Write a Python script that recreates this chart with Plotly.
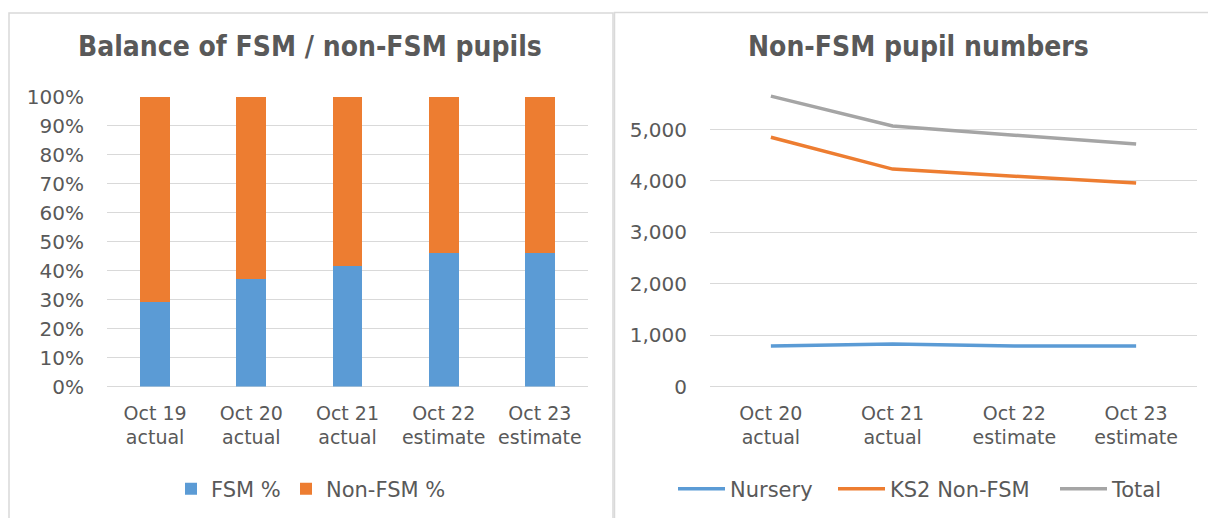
import plotly.graph_objects as go

# ---- data ----
bar_categories = ["Oct 19<br>actual", "Oct 20<br>actual", "Oct 21<br>actual",
                  "Oct 22<br>estimate", "Oct 23<br>estimate"]
fsm_pct = [29.3, 37.2, 41.7, 46.0, 46.0]
non_fsm_pct = [70.7, 62.8, 58.3, 54.0, 54.0]

line_categories = ["Oct 20<br>actual", "Oct 21<br>actual",
                   "Oct 22<br>estimate", "Oct 23<br>estimate"]
nursery = [790, 825, 790, 790]
ks2_non_fsm = [4850, 4230, 4090, 3960]
total = [5650, 5070, 4890, 4720]

pct_ticks = [0, 10, 20, 30, 40, 50, 60, 70, 80, 90, 100]
pct_labels = ["0%", "10%", "20%", "30%", "40%", "50%", "60%", "70%", "80%", "90%", "100%"]
num_ticks = [0, 1000, 2000, 3000, 4000, 5000]
num_labels = ["0", "1,000", "2,000", "3,000", "4,000", "5,000"]

# ---- style ----
OFF = 8  # page body margin
W, H = 1216 - OFF, 518 - OFF
FONT = "DejaVu Sans, sans-serif"
TFONT = "DejaVu Sans Condensed, DejaVu Sans, sans-serif"
TXT = "#595959"
GRID = "#D9D9D9"
BLUE = "#5B9BD5"
ORANGE = "#ED7D31"
GREY = "#A5A5A5"


def px(x):
    return (x - OFF) / W


def py(y):
    return 1 - (y - OFF) / H


fig = go.Figure()

fig.add_trace(go.Bar(x=bar_categories, y=fsm_pct, name="FSM %",
                     marker=dict(color=BLUE, line=dict(width=0)),
                     xaxis="x", yaxis="y", legend="legend"))
fig.add_trace(go.Bar(x=bar_categories, y=non_fsm_pct, name="Non-FSM %",
                     marker=dict(color=ORANGE, line=dict(width=0)),
                     xaxis="x", yaxis="y", legend="legend2"))

for name, vals, col, lg in [("Nursery", nursery, BLUE, "legend3"),
                            ("KS2 Non-FSM", ks2_non_fsm, ORANGE, "legend4"),
                            ("Total", total, GREY, "legend5")]:
    fig.add_trace(go.Scatter(x=line_categories, y=vals, name=name, mode="lines",
                             line=dict(color=col, width=3.5),
                             xaxis="x2", yaxis="y2", legend=lg))

ytickfont = dict(family=FONT, size=20, color=TXT)
xtickfont = dict(family=FONT, size=19, color=TXT)


def leg(x_sym, itemwidth):
    return dict(orientation="h", x=px(x_sym - 10), xanchor="left", y=py(489),
                yanchor="middle", font=dict(family=FONT, size=21, color=TXT),
                itemwidth=itemwidth, bgcolor="rgba(0,0,0,0)", borderwidth=0)


fig.update_layout(
    width=W, height=H, autosize=False,
    margin=dict(l=0, r=0, t=0, b=0, pad=0),
    paper_bgcolor="white", plot_bgcolor="white",
    barmode="stack", bargap=0.69,
    font=dict(family=FONT, color=TXT, size=20),
    xaxis=dict(domain=[px(107), px(588)], range=[-0.5, 4.5], showgrid=False,
               showline=False, zeroline=False, tickfont=xtickfont, ticks="",
               ticklabelstandoff=13, automargin=False, fixedrange=True),
    yaxis=dict(domain=[py(386.5), py(96.5)], range=[0, 100],
               tickmode="array", tickvals=pct_ticks, ticktext=pct_labels,
               showgrid=True, gridcolor=GRID, gridwidth=1, zeroline=True,
               zerolinecolor=GRID, zerolinewidth=1, showline=False,
               tickfont=ytickfont, ticklabelstandoff=22, automargin=False,
               fixedrange=True),
    xaxis2=dict(domain=[px(710), px(1197)], anchor="y2", range=[-0.5, 3.5],
                showgrid=False, showline=False, zeroline=False,
                tickfont=xtickfont, ticks="", ticklabelstandoff=13,
                automargin=False, fixedrange=True),
    yaxis2=dict(domain=[py(386.5), py(85)], anchor="x2",
                range=[0, (386.5 - 85) / 51.4 * 1000],
                tickmode="array", tickvals=num_ticks, ticktext=num_labels,
                showgrid=True, gridcolor=GRID, gridwidth=1, zeroline=True,
                zerolinecolor=GRID, zerolinewidth=1, showline=False,
                tickfont=ytickfont, ticklabelstandoff=22, automargin=False,
                fixedrange=True),
    legend=leg(181, 30),
    legend2=leg(296, 30),
    legend3=leg(683, 47),
    legend4=leg(843, 47),
    legend5=leg(1065, 47),
    showlegend=True,
    annotations=[
        dict(text="<b>Balance of FSM / non-FSM pupils</b>", x=px(310), y=py(47),
             xref="paper", yref="paper", xanchor="center", yanchor="middle",
             showarrow=False, font=dict(family=TFONT, size=28, color=TXT)),
        dict(text="<b>Non-FSM pupil numbers</b>", x=px(918), y=py(47),
             xref="paper", yref="paper", xanchor="center", yanchor="middle",
             showarrow=False, font=dict(family=TFONT, size=28, color=TXT)),
    ],
    shapes=[
        dict(type="rect", xref="paper", yref="paper", x0=px(9), x1=px(613),
             y0=py(530), y1=py(13), line=dict(color=GRID, width=1.5),
             fillcolor="rgba(0,0,0,0)", layer="below"),
        dict(type="rect", xref="paper", yref="paper", x0=px(614.5), x1=px(1230),
             y0=py(530), y1=py(12.5), line=dict(color=GRID, width=1.5),
             fillcolor="rgba(0,0,0,0)", layer="below"),
    ],
)

fig.write_html("out.html", config={"displayModeBar": False})
